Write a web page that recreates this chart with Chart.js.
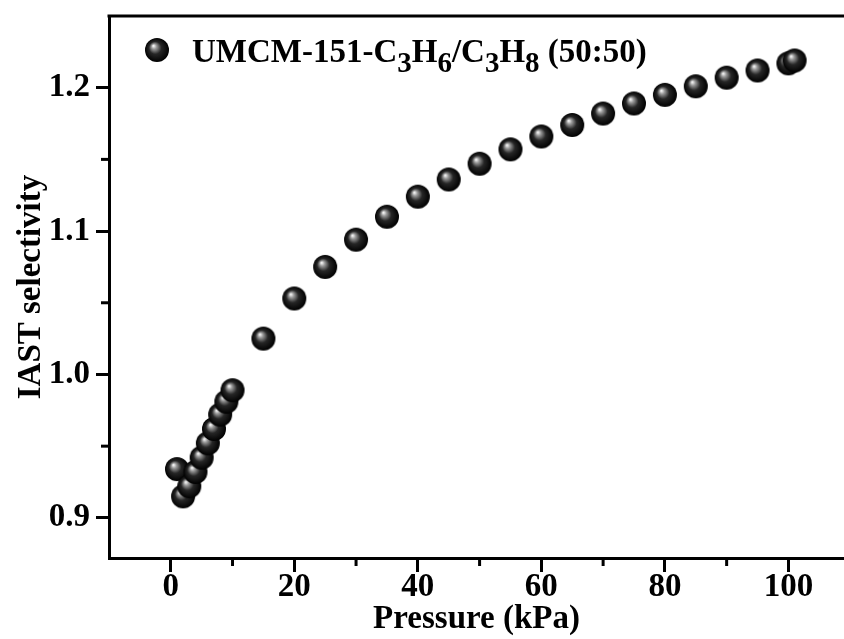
<!DOCTYPE html>
<html>
<head>
<meta charset="utf-8">
<script src="https://cdn.jsdelivr.net/npm/chart.js@4.4.1/dist/chart.umd.min.js"></script>
<style>
  html, body { margin: 0; padding: 0; background: #fff; }
  #chart { display: block; }
</style>
</head>
<body>
<canvas id="chart" width="844" height="639"></canvas>
<script>
// data
const pressure = [1, 2, 3, 4, 5, 6, 7, 8, 9, 10, 15, 20, 25, 30, 35, 40, 45, 50, 55, 60, 65, 70, 75, 80, 85, 90, 95, 100, 101];
const selectivity = [0.934, 0.915, 0.922, 0.932, 0.942, 0.952, 0.962, 0.972, 0.981, 0.989, 1.025, 1.053, 1.075, 1.094, 1.110, 1.124, 1.136, 1.147, 1.157, 1.166, 1.174, 1.182, 1.189, 1.195, 1.201, 1.207, 1.212, 1.217, 1.219];
const xTicks = [0, 20, 40, 60, 80, 100];
const xMinorTicks = [10, 30, 50, 70, 90];
const yTicks = [0.9, 1.0, 1.1, 1.2];
const yMinorTicks = [0.95, 1.05, 1.15];
// legend label pieces: [text, isSubscript]
const legendParts = [['UMCM-151-C', false], ['3', true], ['H', false], ['6', true], ['/C', false], ['3', true], ['H', false], ['8', true], [' (50:50)', false]];

const FONT = '"Liberation Serif", "Times New Roman", serif';

// shaded ball marker
function makeBall(r) {
    const c = document.createElement('canvas');
    c.width = c.height = r * 2 + 2;
    const g = c.getContext('2d');
    const cx = r + 1, cy = r + 1;
    const grad = g.createRadialGradient(cx - r * 0.3, cy - r * 0.35, 0.5, cx, cy, r);
    grad.addColorStop(0, '#f4f4f4');
    grad.addColorStop(0.18, '#9a9a9a');
    grad.addColorStop(0.5, '#262626');
    grad.addColorStop(1, '#000');
    g.fillStyle = grad;
    g.beginPath();
    g.arc(cx, cy, r, 0, Math.PI * 2);
    g.fill();
    return c;
}
const ball = makeBall(12);

// top frame, minor ticks and the legend
const extras = {
    id: 'extras',
    afterDraw(chart) {
        const ctx = chart.ctx;
        const area = chart.chartArea;
        const xs = chart.scales.x, ys = chart.scales.y;
        ctx.save();
        ctx.strokeStyle = '#000';
        ctx.lineWidth = 3;
        ctx.beginPath();
        ctx.moveTo(area.left - 1.5, area.top);
        ctx.lineTo(chart.width, area.top);
        ctx.stroke();

        xMinorTicks.forEach(v => {
            const px = xs.getPixelForValue(v);
            ctx.beginPath();
            ctx.moveTo(px, area.bottom);
            ctx.lineTo(px, area.bottom + 8);
            ctx.stroke();
        });
        yMinorTicks.forEach(v => {
            const py = ys.getPixelForValue(v);
            ctx.beginPath();
            ctx.moveTo(area.left, py);
            ctx.lineTo(area.left - 8, py);
            ctx.stroke();
        });

        // legend
        ctx.drawImage(ball, 157 - ball.width / 2, 50 - ball.height / 2);
        let x = 192;
        ctx.fillStyle = '#000';
        ctx.textBaseline = 'alphabetic';
        legendParts.forEach(([t, sub]) => {
            ctx.font = (sub ? 'bold 29px ' : 'bold 33px ') + FONT;
            ctx.fillText(t, x, sub ? 72 : 62);
            x += ctx.measureText(t).width;
        });
        ctx.restore();
    }
};

new Chart(document.getElementById('chart'), {
    type: 'scatter',
    data: {
        datasets: [{
            label: 'UMCM-151-C3H6/C3H8 (50:50)',
            data: pressure.map((p, i) => ({ x: p, y: selectivity[i] })),
            pointStyle: ball,
            pointRadius: 12,
            showLine: false
        }]
    },
    options: {
        responsive: false,
        animation: false,
        devicePixelRatio: 1,
        layout: { autoPadding: false, padding: { top: 16, right: 0, left: 0, bottom: 0 } },
        plugins: {
            legend: { display: false },
            tooltip: { enabled: false }
        },
        scales: {
            x: {
                type: 'linear',
                min: -10,
                max: 109,
                afterBuildTicks: s => { s.ticks = xTicks.map(v => ({ value: v })); },
                afterFit: s => { s.height = 81; s.paddingLeft = 0; s.paddingRight = 0; },
                border: { display: true, color: '#000', width: 3 },
                grid: { drawOnChartArea: false, drawTicks: true, tickLength: 14, tickWidth: 3, tickColor: '#000' },
                ticks: {
                    color: '#000',
                    padding: -4,
                    maxRotation: 0,
                    font: { family: FONT, size: 33, weight: 'bold' }
                },
                title: {
                    display: true,
                    text: 'Pressure (kPa)',
                    color: '#000',
                    padding: { top: 8, bottom: 0 },
                    font: { family: FONT, size: 33, weight: 'bold' }
                }
            },
            y: {
                min: 0.872,
                max: 1.25,
                afterBuildTicks: s => { s.ticks = yTicks.map(v => ({ value: v })); },
                afterFit: s => { s.width = 109; s.paddingTop = 0; s.paddingBottom = 0; },
                border: { display: true, color: '#000', width: 3 },
                grid: { drawOnChartArea: false, drawTicks: true, tickLength: 13, tickWidth: 3, tickColor: '#000' },
                ticks: {
                    color: '#000',
                    padding: 6,
                    callback: v => v.toFixed(1),
                    font: { family: FONT, size: 33, weight: 'bold' }
                },
                title: {
                    display: true,
                    text: 'IAST selectivity',
                    color: '#000',
                    padding: { top: 12, bottom: 0 },
                    font: { family: FONT, size: 33, weight: 'bold' }
                }
            }
        }
    },
    plugins: [extras]
});
</script>
</body>
</html>
